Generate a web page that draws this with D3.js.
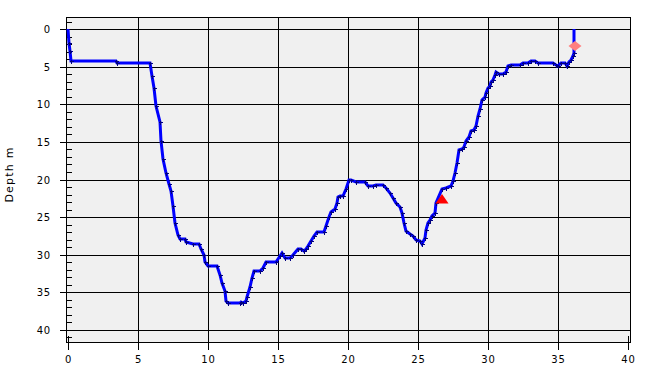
<!DOCTYPE html>
<html><head><meta charset="utf-8">
<script src="https://cdn.jsdelivr.net/npm/d3@7"></script>
<style>
html,body{margin:0;padding:0;background:#fff;}
text{font-family:"DejaVu Sans",sans-serif;}
</style></head>
<body><svg id="c" width="661" height="378"></svg>
<script>
const times = [0,0.09,0.17,0.24,3.46,3.51,5.89,5.98,6.17,6.31,
6.55,6.67,6.81,7.03,7.19,7.34,7.53,7.67,7.84,7.98,
8.34,8.46,8.93,9.36,9.53,9.69,9.81,10.0,10.67,10.84,
11.03,11.19,11.31,11.43,12.26,12.39,12.5,12.69,12.79,12.98,
13.16,13.29,13.69,13.93,14.17,14.89,15.12,15.31,15.48,15.84,
16.07,16.43,16.67,16.84,16.98,17.14,17.34,17.55,17.81,18.26,
18.41,18.62,18.81,19.05,19.21,19.29,19.46,19.64,19.84,20.05,
20.24,20.6,21.19,21.43,21.79,21.98,22.5,22.74,22.98,23.21,
23.46,23.69,23.86,23.98,24.17,24.41,24.64,24.89,25.12,25.31,
25.48,25.6,25.71,25.84,26.0,26.21,26.31,26.74,27.03,27.34,
27.5,27.67,27.81,27.93,28.17,28.29,28.46,28.64,28.81,28.98,
29.17,29.29,29.46,29.6,29.76,29.89,30.0,30.12,30.24,30.36,
30.48,30.6,30.76,31.07,31.26,31.43,31.67,32.26,32.5,32.86,
33.1,33.34,33.57,34.64,34.89,35.0,35.24,35.48,35.64,35.79,
35.96,36.07,36.14,36.14];
const depths = [0,1.86,2.98,4.25,4.25,4.48,4.52,6.3,7.84,10.29,
12.41,14.94,17.28,19.14,20.6,21.58,23.57,25.78,27.43,27.91,
27.91,28.31,28.53,28.53,29.2,29.99,30.92,31.55,31.55,32.65,
33.75,34.87,36.2,36.48,36.48,36.33,36.48,36.2,35.61,34.29,
33.09,32.21,32.21,31.76,30.96,30.96,30.22,29.77,30.43,30.43,
29.99,29.24,29.24,29.55,29.24,28.89,28.23,27.47,26.98,26.98,
26.23,25.04,24.37,23.92,23.12,22.33,22.15,22.15,21.22,20.12,
20.03,20.33,20.33,20.82,20.82,20.69,20.69,21.13,21.79,22.46,
23.12,23.65,24.45,25.78,26.8,27.24,27.56,28.0,28.23,28.53,
27.77,26.67,25.78,25.44,24.9,24.45,23.12,21.26,21.13,20.92,
20.25,19.14,17.81,16.04,15.95,15.68,14.94,14.35,13.61,13.38,
12.94,11.61,10.63,9.4,9.04,8.5,7.84,7.63,7.1,6.74,
6.07,5.71,5.98,5.98,5.71,4.97,4.74,4.74,4.52,4.52,
4.31,4.31,4.52,4.52,4.74,4.88,4.52,4.52,4.88,4.44,
4.08,3.64,3.19,0];
const xTicks = [0,5,10,15,20,25,30,35,40];
const yTicks = [0,5,10,15,20,25,30,35,40];
const yMinorTicks = d3.range(-1,42).filter(v => v % 5 !== 0);
const xMinorTicks = [0,40];
const triangleMark = {t:26.71, d:22.72};
const diamondMark = {t:36.19, d:2.31};
const yLabel = "Depth m";

const svg = d3.select("#c");
const L=66, R=630, T=17, B=342;
const x = d3.scaleLinear().domain([-2/14, (R-68)/14]).rangeRound([L,R]);
const y = d3.scaleLinear().domain([-1.6, 41.6]).rangeRound([T,B]);

svg.append("rect").attr("x",L+0.5).attr("y",T+0.5).attr("width",R-L).attr("height",B-T)
  .attr("fill","#f0f0f0");

// gridlines
const grid = svg.append("g").attr("stroke","#000").attr("stroke-width",1);
xTicks.filter(v=>v>0 && v<40).forEach(v=>{
  grid.append("line").attr("x1",x(v)+0.5).attr("x2",x(v)+0.5).attr("y1",T+0.5).attr("y2",B+0.5);
});
yTicks.forEach(v=>{
  grid.append("line").attr("x1",L+0.5).attr("x2",R+0.5).attr("y1",y(v)+0.5).attr("y2",y(v)+0.5);
});

// axes
const fmt = d => String(d);
const gx = svg.append("g").attr("transform",`translate(0,${B})`)
  .call(d3.axisBottom(x).tickValues(xTicks).tickSize(8).tickPadding(6).tickSizeOuter(0).tickFormat(fmt));
gx.select(".domain").remove();
const gxm = svg.append("g").attr("transform",`translate(0,${B})`)
  .call(d3.axisBottom(x).tickValues(xMinorTicks).tickSize(-6).tickFormat(""));
gxm.select(".domain").remove();

const gy = svg.append("g").attr("transform",`translate(${L},0)`)
  .call(d3.axisLeft(y).tickValues(yTicks).tickSize(6).tickPadding(9).tickSizeOuter(0).tickFormat(fmt));
gy.select(".domain").remove();
const gym = svg.append("g").attr("transform",`translate(${L},0)`)
  .call(d3.axisLeft(y).tickValues(yMinorTicks).tickSize(-6).tickFormat(""));
gym.select(".domain").remove();

svg.selectAll(".tick text").attr("font-family","DejaVu Sans, sans-serif").attr("font-size","10px")
  .attr("letter-spacing","0.8px").attr("fill","#000");
svg.selectAll(".tick line").attr("stroke","#000");

// border
svg.append("rect").attr("x",L+0.5).attr("y",T+0.5).attr("width",R-L).attr("height",B-T)
  .attr("fill","none").attr("stroke","#000");

// profile line
const pts = times.map((t,i)=>[t,depths[i]]);
const line = d3.line().x(d=>x(d[0])).y(d=>y(d[1]));
svg.append("path").datum(pts).attr("d",line).attr("fill","none")
  .attr("stroke","#0000ff").attr("stroke-width",3).attr("stroke-linejoin","miter");

// point crosses
const cross = svg.append("g").attr("stroke","#000080").attr("stroke-width",1).attr("shape-rendering","crispEdges");
pts.slice(1,-1).forEach(p=>{
  const cx = Math.round(x(p[0]))+0.5, cy = Math.round(y(p[1]))+0.5;
  cross.append("path").attr("d",`M${cx-2},${cy}H${cx+2}M${cx},${cy-2}V${cy+2}`);
});

// triangle marker
const tx = x(triangleMark.t), ty = y(triangleMark.d);
svg.append("path").attr("d",`M${tx},${ty-6}L${tx+6.5},${ty+3.5}L${tx-6.5},${ty+3.5}Z`).attr("fill","#ff0000");

// diamond marker
const dx = x(diamondMark.t), dy = y(diamondMark.d);
svg.append("path").attr("d",`M${dx},${dy-5}L${dx+6.5},${dy}L${dx},${dy+5}L${dx-6.5},${dy}Z`).attr("fill","#ff8080");

// y label
svg.append("text").attr("transform",`translate(13,${174.5}) rotate(-90)`)
  .attr("text-anchor","middle").attr("font-size","11px").attr("letter-spacing","1.2px")
  .attr("fill","#000").text(yLabel);
</script></body></html>
